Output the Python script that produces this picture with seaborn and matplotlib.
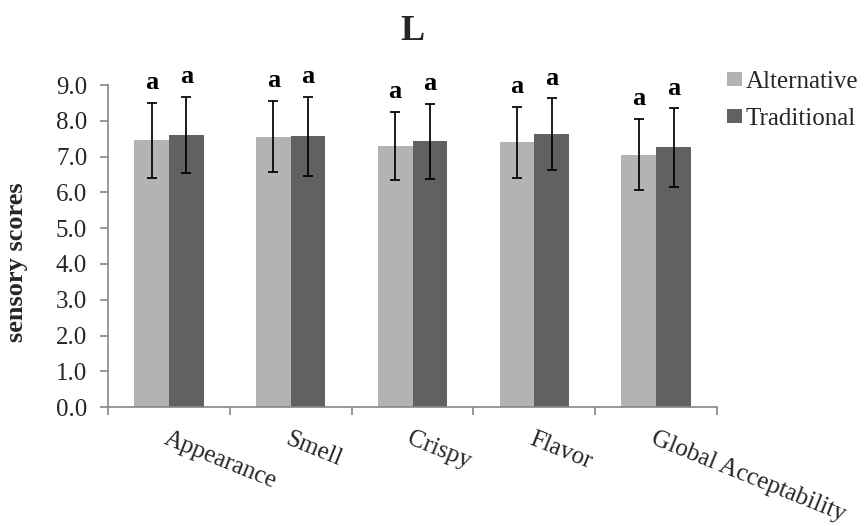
import numpy as np
import pandas as pd
import matplotlib
matplotlib.use("Agg")
import matplotlib.pyplot as plt
import seaborn as sns

categories = ["Appearance", "Smell", "Crispy", "Flavor", "Global Acceptability"]
series = ["Alternative", "Traditional"]
alt_mean = [7.46, 7.56, 7.30, 7.40, 7.06]
trad_mean = [7.61, 7.57, 7.43, 7.63, 7.26]
alt_sd = [1.05, 1.00, 0.95, 1.00, 1.00]
trad_sd = [1.07, 1.10, 1.05, 1.00, 1.10]
letters_alt = ["a", "a", "a", "a", "a"]
letters_trad = ["a", "a", "a", "a", "a"]
yticks = [0, 1, 2, 3, 4, 5, 6, 7, 8, 9]
title = "L"
ylabel = "sensory scores"

colors = {"Alternative": "#b3b3b3", "Traditional": "#616161"}
bar_width = 0.57

df = pd.DataFrame({
    "category": categories * 2,
    "series": ["Alternative"] * len(categories) + ["Traditional"] * len(categories),
    "score": alt_mean + trad_mean,
    "sd": alt_sd + trad_sd,
    "letter": letters_alt + letters_trad,
})

sns.set_style("ticks")
plt.rcParams["font.family"] = ["Liberation Serif", "DejaVu Serif"]

fig = plt.figure(figsize=(8.66, 5.26), dpi=100)
ax = fig.add_axes([0.1247, 0.2262, 0.8281 - 0.1247, 0.838 - 0.2262])

sns.barplot(data=df, x="category", y="score", hue="series", order=categories,
            hue_order=series, palette=colors, width=bar_width, errorbar=None,
            saturation=1, ax=ax, legend=True, linewidth=0)

for s_i, s in enumerate(series):
    sub = df[df["series"] == s]
    for c_i, c in enumerate(categories):
        r = sub[sub["category"] == c].iloc[0]
        offset = (-bar_width / 4) if s_i == 0 else (bar_width / 4)
        cx = c_i + offset
        ax.errorbar(cx, r["score"], yerr=r["sd"], fmt="none", ecolor="black",
                    elinewidth=1.25, capsize=3.5, capthick=1.25, zorder=5)
        ax.text(cx, r["score"] + r["sd"] + 0.38, r["letter"], ha="center", va="baseline",
                fontsize=19, fontweight="bold", color="black")

ax.set_ylim(0, 9)
ax.set_xlim(-0.5, len(categories) - 0.5)
ax.set_yticks(yticks)
ax.set_yticklabels([f"{v:.1f}" for v in yticks], fontsize=18)
ax.set_xticks(range(len(categories)))
ax.set_xticklabels(categories, fontsize=18, rotation=-22, ha="left", va="top",
                   rotation_mode="anchor")
ax.set_xticks(np.arange(-0.5, len(categories), 1.0), minor=True)
ax.tick_params(axis="x", which="major", bottom=True, length=0, pad=15)
ax.tick_params(axis="x", which="minor", bottom=True, length=6, width=1.2,
               color="#868686", direction="out")
ax.tick_params(axis="y", which="major", left=True, length=6, width=1.2,
               color="#868686", direction="out", pad=9)

for sp in ["top", "right"]:
    ax.spines[sp].set_visible(False)
for sp in ["left", "bottom"]:
    ax.spines[sp].set_color("#868686")
    ax.spines[sp].set_linewidth(1.2)

ax.set_xlabel("")
ax.set_ylabel(ylabel, fontsize=19, fontweight="bold")
ax.yaxis.set_label_coords(-0.131, 0.45)
fig.text(0.4757, 1 - 40 / 526, title, ha="center", va="baseline",
         fontsize=26, fontweight="bold")

handles, labels = ax.get_legend_handles_labels()
ax.legend(handles, labels, loc="upper left", bbox_to_anchor=(0.8275, 0.884),
          bbox_transform=fig.transFigure, frameon=False, fontsize=18,
          handlelength=0.6, handleheight=0.5, handletextpad=0.17, labelspacing=0.6,
          borderaxespad=0)

fig.savefig("out.png", dpi=100)
